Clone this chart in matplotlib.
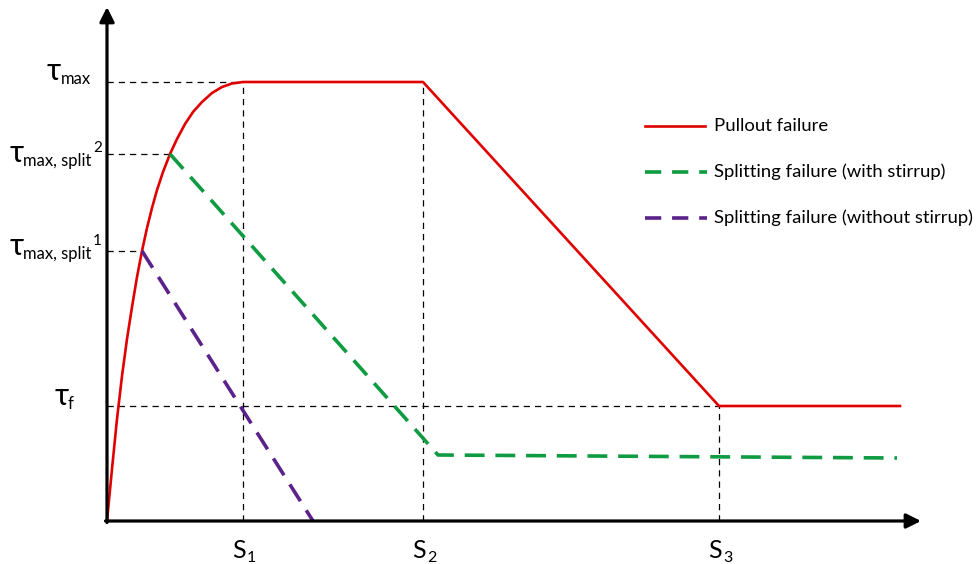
import matplotlib
matplotlib.use("Agg")
import matplotlib.pyplot as plt

plt.rcParams['font.family'] = ['Lato', 'DejaVu Sans']

# characteristic slips and stresses (chart units, origin at axis corner)
s1, s2, s3, s_end = 136, 316, 612, 793
tau_max, tau_split2, tau_split1, tau_f = 439, 367, 270, 115

# ascending branch of pullout curve
asc_s = [0, 5, 10, 15, 20, 25, 30, 35, 40, 45, 50, 56, 63,
         70, 78, 86, 95, 105, 115, 125, 136]
asc_t = [0, 52, 102, 145, 182, 214, 244, 270, 293, 313, 331, 349, 367,
         382, 397, 409, 419, 428, 434, 437.5, 439]

pull_s = asc_s + [s2, s3, s_end]
pull_t = asc_t + [tau_max, tau_f, tau_f]

with_s = [63, 331, 790]
with_t = [tau_split2, 66, 63]

without_s = [35, 206]
without_t = [tau_split1, 0]

red = "#e00000"
green = "#0e9b41"
purple = "#5b228b"

fig = plt.figure(figsize=(9.79, 5.64), dpi=100)
ax = fig.add_axes([0, 0, 1, 1])
ax.set_xlim(-107, 872)
ax.set_ylim(-43, 521)
ax.axis('off')

# guide lines
gkw = dict(color='k', lw=0.9, dashes=(5, 4), zorder=1)
ax.plot([0, s1], [tau_max, tau_max], **gkw)
ax.plot([0, 63], [tau_split2, tau_split2], **gkw)
ax.plot([0, 35], [tau_split1, tau_split1], **gkw)
ax.plot([0, s3], [tau_f, tau_f], **gkw)
ax.plot([s1, s1], [0, tau_max], **gkw)
ax.plot([s2, s2], [0, tau_max], **gkw)
ax.plot([s3, s3], [0, tau_f], **gkw)

# curves
ax.plot(pull_s, pull_t, color=red, lw=1.9, zorder=3, solid_joinstyle='round')
ax.plot(with_s, with_t, color=green, lw=2.6, dashes=(5.5, 3), zorder=3)
ax.plot(without_s, without_t, color=purple, lw=2.6, dashes=(5.5, 3), zorder=3)

# axes with arrows
akw = dict(arrowstyle='-|>', lw=2.3, color='k', mutation_scale=22, shrinkA=0, shrinkB=0)
ax.annotate('', xy=(814, 0), xytext=(-1.5, 0), arrowprops=akw, zorder=4)
ax.annotate('', xy=(0, 514), xytext=(0, -1.5), arrowprops=akw, zorder=4)

# legend drawn by hand
leg = [("Pullout failure", red, None),
       ("Splitting failure (with stirrup)", green, (5.5, 3)),
       ("Splitting failure (without stirrup)", purple, (5.5, 3))]
for i, (lab, col, ds) in enumerate(leg):
    y = 395 - i * 46
    if ds is None:
        ax.plot([538, 598], [y, y], color=col, lw=1.9)
    else:
        ax.plot([538, 600], [y, y], color=col, lw=2.6, dashes=(4.5, 3))
    ax.text(607, y, lab, fontsize=13.3, va='center', ha='left')

# y labels
def tau_label(x, y, sub, sup=None, subx=14):
    ax.text(x, y, "\u03c4", fontsize=22, ha='left', va='baseline')
    ax.text(x + subx, y - 4, sub, fontsize=12, ha='left', va='baseline')
    if sup is not None:
        ax.text(x + subx + 70, y + 10, sup, fontsize=11, ha='left', va='baseline')

tau_label(-60, 441, "max")
tau_label(-97, 359, "max, split", "2", subx=13)
tau_label(-97, 266, "max, split", "1", subx=13)
tau_label(-52, 116, "f", subx=13)

# x labels
for xx, n in [(s1, "1"), (s2, "2"), (s3, "3")]:
    ax.text(xx - 11, -37, "S", fontsize=18, ha='left', va='baseline')
    ax.text(xx + 4, -41, n, fontsize=11.5, ha='left', va='baseline')

fig.savefig("out.png", dpi=100)
